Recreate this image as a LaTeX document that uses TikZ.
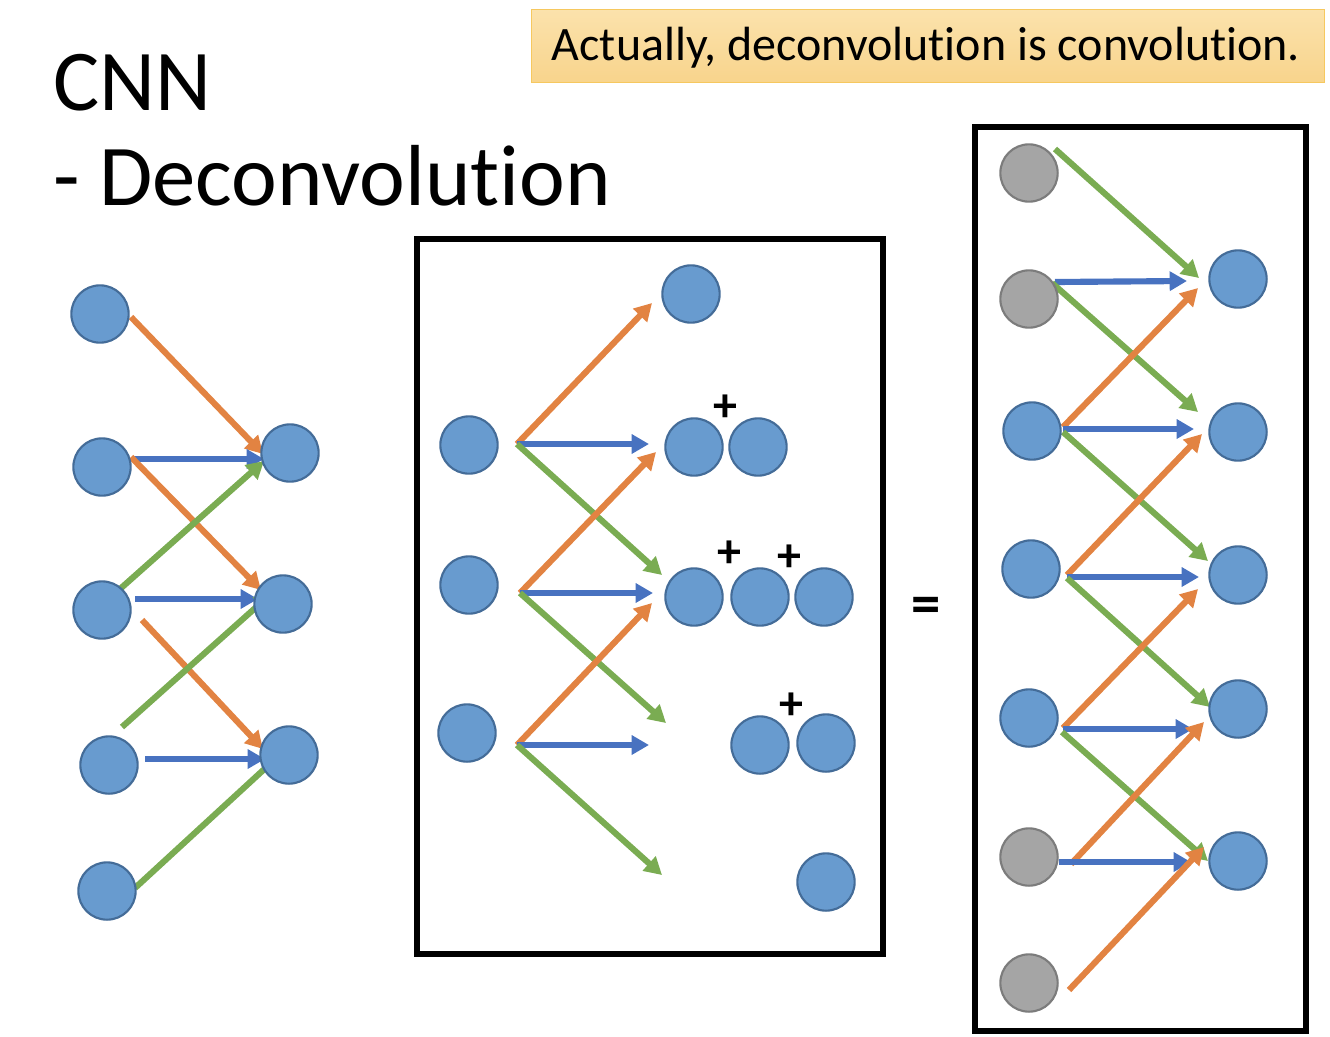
\documentclass[tikz,border=0pt]{standalone}
\usepackage{fontspec}
\setmainfont{Carlito}[Ligatures=NoCommon]
\usetikzlibrary{arrows.meta}
\definecolor{cfill}{RGB}{104,155,207}
\definecolor{cdraw}{RGB}{68,108,152}
\definecolor{gfill}{RGB}{165,165,165}
\definecolor{gdraw}{RGB}{124,124,124}
\definecolor{corange}{RGB}{226,131,66}
\definecolor{cblue}{RGB}{72,114,192}
\definecolor{cgreen}{RGB}{122,172,82}
\definecolor{notetop}{RGB}{251,226,172}
\definecolor{notebot}{RGB}{248,212,140}
\definecolor{noteedge}{RGB}{246,200,95}
\tikzset{
  bluec/.style={circle,fill=cfill,draw=cdraw,line width=1.6pt,minimum size=43pt,inner sep=0pt},
  grayc/.style={circle,fill=gfill,draw=gdraw,line width=1.6pt,minimum size=43pt,inner sep=0pt},
  arrbase/.style={line width=4.6pt,-{Triangle[length=13pt,width=14pt]}},
  oa/.style={arrbase,draw=corange,fill=corange},
  ba/.style={arrbase,draw=cblue,fill=cblue},
  ga/.style={arrbase,draw=cgreen,fill=cgreen},
  frame/.style={draw=black,line width=4.8pt},
  plus/.style={font=\fontsize{36}{36}\selectfont\bfseries,inner sep=0pt},
}
\begin{document}
\begin{tikzpicture}[x=0.75pt,y=-0.75pt]
\useasboundingbox (0,0) rectangle (1330,1036);
% title
\node[anchor=base west,inner sep=0pt,font=\fontsize{65}{78}\selectfont] (t1) at (53,110) {CNN};
\node[anchor=base west,inner sep=0pt,font=\fontsize{65}{78}\selectfont] (t2) at (53,205) {- Deconvolution};
% note
\node[draw=noteedge,line width=0.8pt,top color=notetop,bottom color=notebot,
      minimum width=595pt,minimum height=55pt,inner sep=0pt] (note) at (928,46) {};
\node[font=\fontsize{36}{40}\selectfont,anchor=base] (notetext) at (926,60) {Actually, deconvolution is convolution.};
% frames
\draw[frame] (417,239) rectangle (883,954);
\draw[frame] (975,127) rectangle (1306,1031);
\node[font=\fontsize{44}{44}\selectfont\bfseries,inner sep=0pt] (eq) at (926,610) {=};

% ---------- arrows (drawn under circles) ----------
\foreach \n/\c/\sx/\sy/\ex/\ey in {
  % left
  a1/oa/131/317/263/454,
  a2/ba/132/459/264/459,
  a3/oa/131/457/261/590,
  a4/ga/120/589/264/461,
  a5/ba/135/599/258/599,
  a6/oa/142/620/263/749,
  a7/ga/122/727/272/593,
  a8/ba/145/759/265/759,
  a9/ga/135/888/284/751,
  % middle
  b1/oa/517/444/652/303,
  b2/ba/517/444/649/444,
  b3/ga/517/444/662/575,
  b4/oa/520/593/656/452,
  b5/ba/520/593/653/593,
  b6/ga/520/593/666/723,
  b7/oa/517/745/652/603,
  b8/ba/517/745/649/745,
  b9/ga/517/745/662/875,
  % right
  c1/ga/1055/149/1199/278,
  c2/ba/1055/282/1187/281,
  c3/ga/1052/283/1198/412,
  c4/oa/1063/427/1198/288,
  c5/ba/1063/429/1194/429,
  c6/ga/1063/432/1208/561,
  c7/oa/1067/575/1202/434,
  c8/ba/1067/577/1199/577,
  c9/ga/1067/578/1210/707,
  c10/oa/1063/728/1198/589,
  c11/ba/1063/729/1193/729,
  c12/ga/1062/732/1208/861,
  c13/oa/1071/864/1204/722,
  c14/ba/1059/862/1191/862,
  c15/oa/1069/990/1204/847}
{
  \coordinate (s\n) at (\sx,\sy);
  \coordinate (e\n) at (\ex,\ey);
  \draw[\c] (s\n) -- (e\n);
}

% ---------- left circles ----------
\node[bluec] (L1) at (100,314) {};
\node[bluec] (L2) at (102,467) {};
\node[bluec] (L3) at (102,610) {};
\node[bluec] (L4) at (109,765) {};
\node[bluec] (L5) at (107,891) {};
\node[bluec] (R1) at (290,453) {};
\node[bluec] (R2) at (283,604) {};
\node[bluec] (R3) at (289,755) {};

% ---------- middle circles ----------
\node[bluec] (M1) at (469,445) {};
\node[bluec] (M2) at (469,585) {};
\node[bluec] (M3) at (467,733) {};
\node[bluec] (O1) at (691,294) {};
\node[bluec] (O2a) at (694,447) {};
\node[bluec] (O2b) at (758,447) {};
\node[bluec] (O3a) at (694,597) {};
\node[bluec] (O3b) at (760,597) {};
\node[bluec] (O3c) at (824,597) {};
\node[bluec] (O4a) at (760,745) {};
\node[bluec] (O4b) at (826,743) {};
\node[bluec] (O5) at (826,882) {};
\node[plus] (p1) at (725,408) {+};
\node[plus] (p2) at (729,554) {+};
\node[plus] (p3) at (789,558) {+};
\node[plus] (p4) at (791,706) {+};

% ---------- right circles ----------
\node[grayc] (G1) at (1029,173) {};
\node[grayc] (G2) at (1029,299) {};
\node[bluec] (B1) at (1032,431) {};
\node[bluec] (B2) at (1031,569) {};
\node[bluec] (B3) at (1029,718) {};
\node[grayc] (G3) at (1029,857) {};
\node[grayc] (G4) at (1029,983) {};
\node[bluec] (Q1) at (1238,279) {};
\node[bluec] (Q2) at (1238,432) {};
\node[bluec] (Q3) at (1238,575) {};
\node[bluec] (Q4) at (1238,709) {};
\node[bluec] (Q5) at (1238,861) {};
\end{tikzpicture}
\end{document}
